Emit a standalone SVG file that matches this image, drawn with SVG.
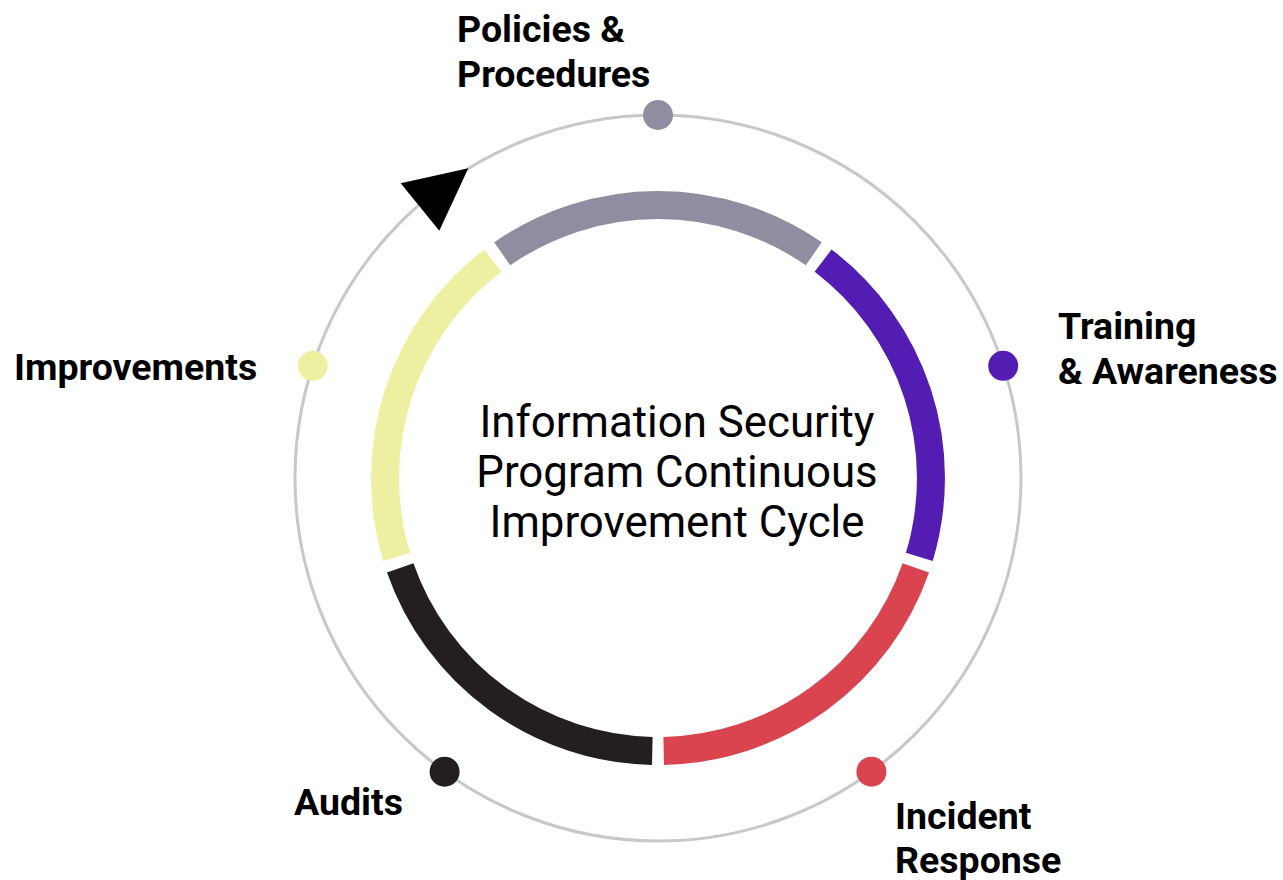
<svg xmlns="http://www.w3.org/2000/svg" width="1283" height="880" viewBox="0 0 1283 880">
<style>
.seg{fill:none;stroke-width:28;stroke-linecap:butt}
.lbl{font-family:Roboto,"Liberation Sans",sans-serif;font-weight:700;font-size:37.5px;fill:#000}
.ctr{font-family:Roboto,"Liberation Sans",sans-serif;font-size:43.8px;fill:#000;text-anchor:middle}
</style>
<rect width="1283" height="880" fill="#fff"/>
<g id="connectors">
<circle cx="658" cy="478" r="363" fill="none" stroke="#c8c8c8" stroke-width="3"/>
<polygon points="400.7,183.3 468.3,168.3 439.3,230.7" fill="#000"/>
</g>
<g id="ring">
<path class="seg" stroke="#8e8ea0" d="M502.2,253.8 A273,273 0 0 1 813.8,253.8"/>
<path class="seg" stroke="#531db4" d="M823.1,260.6 A273,273 0 0 1 919.3,556.9"/>
<path class="seg" stroke="#d9444f" d="M915.8,567.8 A273,273 0 0 1 663.7,750.9"/>
<path class="seg" stroke="#231f20" d="M652.3,750.9 A273,273 0 0 1 400.2,567.8"/>
<path class="seg" stroke="#edf0a0" d="M396.7,556.9 A273,273 0 0 1 492.9,260.6"/>
</g>
<g id="center">
<text class="ctr" x="677" y="437">Information Security</text>
<text class="ctr" x="677" y="487">Program Continuous</text>
<text class="ctr" x="677" y="537">Improvement Cycle</text>
</g>
<g id="node-policies">
<circle cx="658" cy="115" r="15" fill="#8e8ea0"/>
<text class="lbl" x="457" y="42">Policies &amp;</text>
<text class="lbl" x="457" y="87">Procedures</text>
</g>
<g id="node-training">
<circle cx="1003.2" cy="365.8" r="15" fill="#531db4"/>
<text class="lbl" x="1058" y="339">Training</text>
<text class="lbl" x="1058" y="384">&amp; Awareness</text>
</g>
<g id="node-incident">
<circle cx="871.4" cy="771.7" r="15" fill="#d9444f"/>
<text class="lbl" x="895" y="829">Incident</text>
<text class="lbl" x="895" y="873">Response</text>
</g>
<g id="node-audits">
<circle cx="444.6" cy="771.7" r="15" fill="#231f20"/>
<text class="lbl" x="294" y="815">Audits</text>
</g>
<g id="node-improvements">
<circle cx="312.8" cy="365.8" r="15" fill="#edf0a0"/>
<text class="lbl" x="14" y="380">Improvements</text>
</g>
</svg>
